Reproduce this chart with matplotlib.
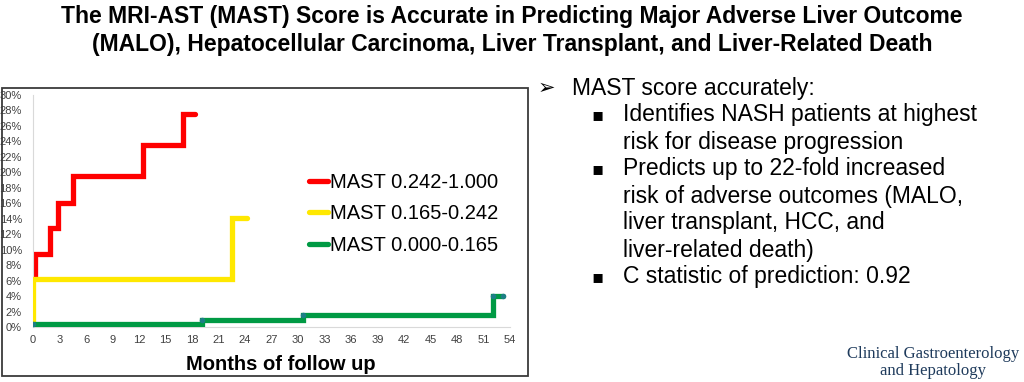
import matplotlib
matplotlib.use("Agg")
from matplotlib import pyplot as plt
from matplotlib import patches
import matplotlib.ticker as mticker

# cumulative incidence curves (months, fraction)
red_months = [0.2, 0.2, 1.9, 2.8, 4.5, 12.5, 17.0, 18.3]
red_risk = [0.062, 0.095, 0.128, 0.160, 0.195, 0.235, 0.275, 0.275]

yellow_months = [0.0, 0.0, 22.5, 24.2]
yellow_risk = [0.0, 0.062, 0.141, 0.141]

green_months = [0.0, 19.1, 30.6, 52.1, 53.2]
green_risk = [0.004, 0.009, 0.016, 0.040, 0.040]

labels = ["MAST 0.242-1.000", "MAST 0.165-0.242", "MAST 0.000-0.165"]
x_ticks = list(range(0, 55, 3))

title = ("The MRI-AST (MAST) Score is Accurate in Predicting Major Adverse Liver Outcome\n"
         "(MALO), Hepatocellular Carcinoma, Liver Transplant, and Liver-Related Death")
head = "MAST score accurately:"
bullets = [
    ["Identifies NASH patients at highest", "risk for disease progression"],
    ["Predicts up to 22-fold increased", "risk of adverse outcomes (MALO,",
     "liver transplant, HCC, and", "liver-related death)"],
    ["C statistic of prediction: 0.92"],
]

W, H = 1024, 382


def px(x, y):
    return x / W, 1 - y / H


plt.rcParams["font.family"] = ["Liberation Sans", "DejaVu Sans"]
fig = plt.figure(figsize=(W / 100, H / 100), dpi=100)

# chart frame
fig.patches.append(patches.Rectangle(px(1.5, 376), 526 / W, 288 / H,
                                     transform=fig.transFigure, fill=False,
                                     edgecolor="#3a3a3a", linewidth=1.3))

ax = fig.add_axes([33 / W, 1 - 327 / H, 477 / W, 232 / H])
line_kw = dict(drawstyle="steps-post", lw=3.8, solid_capstyle="round",
               solid_joinstyle="miter")
ax.plot(red_months, red_risk, color="#ff0000", zorder=2, label=labels[0], **line_kw)
ax.plot(yellow_months, yellow_risk, color="#ffe800", zorder=3, label=labels[1], **line_kw)
ax.plot(green_months, green_risk, color="#009a44", zorder=4, label=labels[2], **line_kw)
# censor dots on the green curve
ax.plot(green_months, green_risk, ls="none", marker="o", ms=3, color="#1d7f86", zorder=5)

ax.set_xlim(0, 54)
ax.set_ylim(0, 0.30)
ax.xaxis.set_major_locator(mticker.FixedLocator(x_ticks))
ax.yaxis.set_major_locator(mticker.MultipleLocator(0.02))
ax.yaxis.set_major_formatter(mticker.PercentFormatter(1.0, decimals=0))
ax.tick_params(length=0, labelsize=8, colors="#404040")
ax.tick_params(axis="y", pad=8)
ax.tick_params(axis="x", pad=6)
for s in ["top", "right"]:
    ax.spines[s].set_visible(False)
for s in ["left", "bottom"]:
    ax.spines[s].set_color("#d9d9d9")
    ax.spines[s].set_linewidth(0.8)
ax.set_xlabel("Months of follow up", fontsize=14.5, fontweight="bold", labelpad=5)
ax.xaxis.set_label_coords(0.52, -0.12)
ax.patch.set_alpha(0)

ax.legend(loc="upper left", bbox_to_anchor=(0.578, 0.665), frameon=False,
          fontsize=14.5, handlelength=0.95, handletextpad=0.1, labelspacing=0.62,
          borderaxespad=0, borderpad=0)

fig.text(0.5, 1 - 5 / H, title, ha="center", va="top", fontsize=16.5,
         fontweight="bold", linespacing=1.25)

# bullet text on the right
fs = 16.5
step = 27
y = 88
fig.text(*px(538, y), "\u27a2", ha="left", va="center", fontsize=15,
         family=["DejaVu Sans"])
fig.text(*px(572, y), head, ha="left", va="center", fontsize=fs)
y += step
for group in bullets:
    fig.text(*px(591, y), "\u25aa", ha="left", va="center", fontsize=13,
             family=["DejaVu Sans"])
    for line in group:
        fig.text(*px(623, y), line, ha="left", va="center", fontsize=fs)
        y += step

fig.text(*px(933, 354), "Clinical Gastroenterology", ha="center", va="center",
         fontsize=12, color="#1f3b5c", family=["Liberation Serif"])
fig.text(*px(933, 371), "and Hepatology", ha="center", va="center",
         fontsize=12, color="#1f3b5c", family=["Liberation Serif"])

fig.savefig("out.png", dpi=100)
